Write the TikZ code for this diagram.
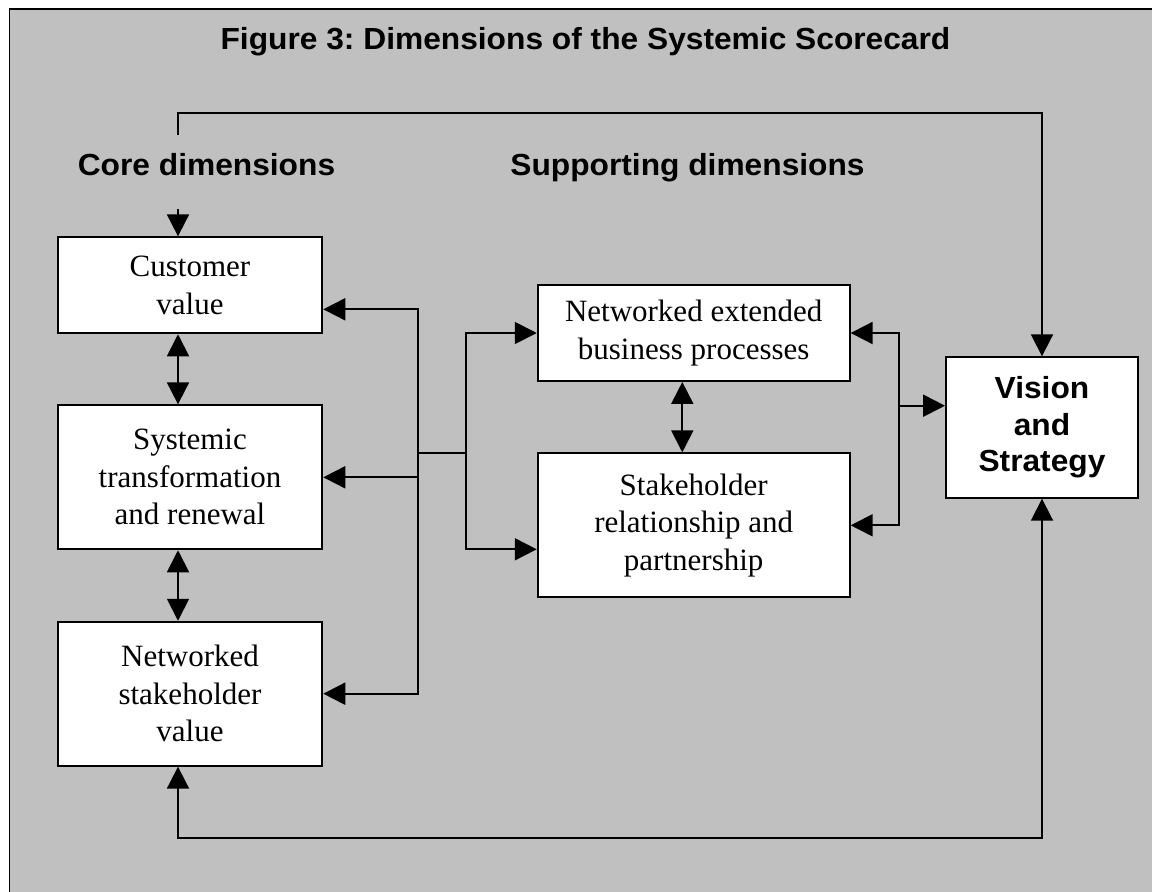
\documentclass[tikz,border=0pt]{standalone}
\usepackage{fontspec}
\usetikzlibrary{arrows.meta}
\newfontfamily\sansbold{Liberation Sans}[FakeStretch=1.04]
\newfontfamily\serifbox{Liberation Serif}
\definecolor{panelgrey}{HTML}{C0C0C0}
\frenchspacing

\begin{document}
\begin{tikzpicture}[x=1pt, y=-1pt,
  dimbox/.style={draw, fill=white, line width=1.9pt, inner sep=0pt, align=center, font=\serifbox\fontsize{31}{37.5}\selectfont},
  heading/.style={anchor=base, font=\sansbold\bfseries\fontsize{30.5}{36.5}\selectfont},
  link/.style={line width=1.9pt, -{Triangle[length=22pt,width=22pt]}},
  twoway/.style={line width=1.9pt, {Triangle[length=22pt,width=22pt]}-{Triangle[length=22pt,width=22pt]}}]
\useasboundingbox (0,0) rectangle (1152,892);
\fill[white] (0,0) rectangle (1152,892);
\draw[fill=panelgrey, line width=1.4pt] (9.5,8.8) rectangle (1170,910);

\node[heading] (title) at (585.5,49.3) {Figure 3: Dimensions of the Systemic Scorecard};
\node[heading] (core) at (206.5,175.7) {Core dimensions};
\node[heading] (supp) at (687.5,175.7) {Supporting dimensions};

\node[dimbox, minimum width=264.6pt, minimum height=96pt] (cust) at (190,285.3) {Customer\\value};
\node[dimbox, minimum width=264.6pt, minimum height=144pt] (sys) at (190,477.3) {Systemic\\transformation\\and renewal};
\node[dimbox, minimum width=264.6pt, minimum height=144pt] (nsv) at (190,693.7) {Networked\\stakeholder\\value};
\node[dimbox, minimum width=312pt, minimum height=96pt] (nebp) at (693.7,333) {Networked extended\\business processes};
\node[dimbox, minimum width=312pt, minimum height=144pt] (srp) at (693.7,525.3) {Stakeholder\\relationship and\\partnership};
\node[dimbox, font=\sansbold\bfseries\fontsize{30.5}{36.5}\selectfont, minimum width=192pt, minimum height=140.5pt] (vis) at (1042,427.5) {Vision\\and\\Strategy};

\coordinate (fbtop) at (178,135);
\coordinate (custin) at (178,209);
\coordinate (busL) at (418,453.3);
\coordinate (busR) at (465.7,453.3);
\coordinate (busV) at (898.7,405.7);

\draw[link] (fbtop) -- ++(0,-22.3) -| (vis.north);
\draw[link] (custin) -- (custin |- cust.north);
\draw[twoway] (cust.south -| custin) -- (sys.north -| custin);
\draw[twoway] (sys.south -| custin) -- (nsv.north -| custin);
\draw[twoway] ([xshift=-12pt]nsv.south) -- ++(0,71.6) -| (vis.south);

\draw[link] (busL) |- ([yshift=-24pt]cust.east);
\draw[link] (busL |- sys.east) -- (sys.east);
\draw[link] (busL) |- (nsv.east);
\draw[line width=1.9pt] (busL) -- (busR);
\draw[link] (busR) |- (nebp.west);
\draw[link] (busR) |- ([yshift=-24pt]srp.west);
\draw[twoway] ([xshift=-11.4pt]nebp.south) -- ([xshift=-11.4pt]srp.north);

\draw[link] (busV) |- (nebp.east);
\draw[link] (busV) |- (srp.east);
\draw[link] (busV) -- (busV -| vis.west);
\end{tikzpicture}
\end{document}
